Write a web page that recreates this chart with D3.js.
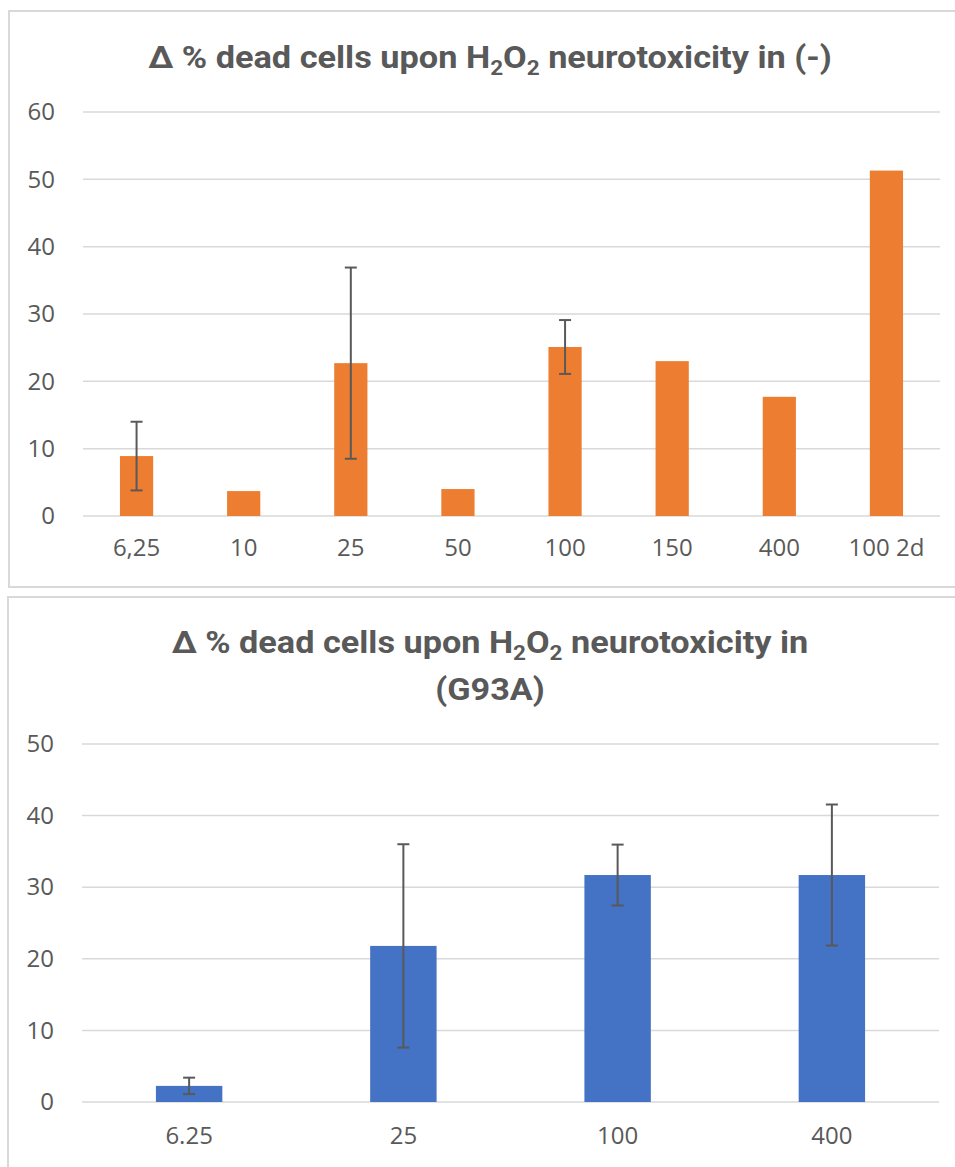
<!DOCTYPE html>
<html>
<head>
<meta charset="utf-8">
<script src="https://cdn.jsdelivr.net/npm/d3@7"></script>
<style>
  body { margin: 0; background: #fff; }
  svg { display: block; }
</style>
</head>
<body>
<div id="chart"></div>
<script>
// Graphique du haut : (-)
var categoriesHaut = ["6,25", "10", "25", "50", "100", "150", "400", "100 2d"];
var valeursHaut = [8.9, 3.7, 22.7, 4.0, 25.1, 23.0, 17.7, 51.3];
var erreursHaut = [5.1, null, 14.2, null, 4.0, null, null, null];
var ticksHaut = [0, 10, 20, 30, 40, 50, 60];

// Graphique du bas : (G93A)
var categoriesBas = ["6.25", "25", "100", "400"];
var valeursBas = [2.25, 21.8, 31.7, 31.7];
var erreursBas = [1.15, 14.2, 4.25, 9.85];
var ticksBas = [0, 10, 20, 30, 40, 50];

var gris = "#595959";
var grille = "#d9d9d9";
var policeAxe = "'Open Sans', 'Noto Sans', sans-serif";
var policeTitre = "Roboto, 'Open Sans', sans-serif";

var svg = d3.select("#chart").append("svg").attr("width", 955).attr("height", 1167);

// largeurCible : largeur de la premiere ligne du titre dans l'original
function dessineTitre(lignes, yPremiere, interligne, largeurCible) {
    var cx = 490;
    var facteur = 1;
    lignes.forEach(function(morceaux, i) {
        var g = svg.append("g");
        var t = g.append("text")
            .attr("x", 0)
            .attr("y", 0)
            .attr("text-anchor", "middle")
            .attr("font-family", policeTitre)
            .attr("font-weight", "bold")
            .attr("font-size", 32)
            .attr("fill", gris);
        var bas = false;
        morceaux.forEach(function(m) {
            var s = t.append("tspan").text(m.t);
            if (m.sub) {
                s.attr("font-size", 21).attr("dy", 7);
                bas = true;
            } else if (bas) {
                s.attr("dy", -7);
                bas = false;
            }
        });
        if (i === 0) {
            facteur = largeurCible / t.node().getComputedTextLength();
        }
        g.attr("transform", "translate(" + cx + "," + (yPremiere + i * interligne) + ") scale(" + facteur + ",1)");
    });
}

function dessineGraphique(cfg) {
    // cadre
    svg.append("rect")
        .attr("x", cfg.cadre[0]).attr("y", cfg.cadre[1])
        .attr("width", cfg.cadre[2]).attr("height", cfg.cadre[3])
        .attr("fill", "none").attr("stroke", grille).attr("stroke-width", 2);

    var x = d3.scaleBand()
        .domain(cfg.categories)
        .range([cfg.gauche, cfg.droite])
        .paddingInner(0.69)
        .paddingOuter(0.345);
    var y = d3.scaleLinear()
        .domain([0, d3.max(cfg.ticks)])
        .range([cfg.bas, cfg.haut]);

    // lignes de grille
    svg.append("g").selectAll("line")
        .data(cfg.ticks)
        .join("line")
        .attr("x1", cfg.gauche).attr("x2", cfg.droite)
        .attr("y1", function(d) { return y(d); })
        .attr("y2", function(d) { return y(d); })
        .attr("stroke", grille).attr("stroke-width", 1.5);

    // axe Y
    var axeY = svg.append("g")
        .attr("transform", "translate(" + cfg.gauche + ",0)")
        .call(d3.axisLeft(y).tickValues(cfg.ticks).tickSize(0).tickPadding(28));
    axeY.select(".domain").remove();
    axeY.selectAll("text")
        .attr("font-family", policeAxe).attr("font-size", 24).attr("fill", gris);

    // axe X
    var axeX = svg.append("g")
        .attr("transform", "translate(0," + cfg.bas + ")")
        .call(d3.axisBottom(x).tickSize(0).tickPadding(cfg.decalX));
    axeX.select(".domain").remove();
    axeX.selectAll("text")
        .attr("font-family", policeAxe).attr("font-size", 24).attr("fill", gris);

    var donnees = cfg.categories.map(function(c, i) {
        return { cat: c, val: cfg.valeurs[i], err: cfg.erreurs[i] };
    });

    // barres
    svg.append("g").selectAll("rect")
        .data(donnees)
        .join("rect")
        .attr("x", function(d) { return x(d.cat); })
        .attr("y", function(d) { return y(d.val); })
        .attr("width", x.bandwidth())
        .attr("height", function(d) { return y(0) - y(d.val); })
        .attr("fill", cfg.couleur);

    // barres d'erreur
    var avecErreur = donnees.filter(function(d) { return d.err != null; });
    var g = svg.append("g").attr("stroke", gris).attr("stroke-width", 2).attr("fill", "none");
    avecErreur.forEach(function(d) {
        var cx = x(d.cat) + x.bandwidth() / 2;
        var y1 = y(d.val + d.err), y2 = y(d.val - d.err);
        g.append("line").attr("x1", cx).attr("x2", cx).attr("y1", y1).attr("y2", y2);
        g.append("line").attr("x1", cx - 6).attr("x2", cx + 6).attr("y1", y1).attr("y2", y1);
        g.append("line").attr("x1", cx - 6).attr("x2", cx + 6).attr("y1", y2).attr("y2", y2);
    });
}

dessineGraphique({
    cadre: [9, 11, 960, 576],
    categories: categoriesHaut, valeurs: valeursHaut, erreurs: erreursHaut, ticks: ticksHaut,
    gauche: 83, droite: 940, haut: 112, bas: 516, decalX: 23,
    couleur: "#ED7D31"
});
dessineTitre([
    [{t: "\u0394 % dead cells upon H"}, {t: "2", sub: true}, {t: "O"}, {t: "2", sub: true}, {t: " neurotoxicity in (-)"}]
], 68, 0, 684);

dessineGraphique({
    cadre: [8, 597, 960, 600],
    categories: categoriesBas, valeurs: valeursBas, erreurs: erreursBas, ticks: ticksBas,
    gauche: 82, droite: 939, haut: 744, bas: 1102, decalX: 25,
    couleur: "#4472C4"
});
dessineTitre([
    [{t: "\u0394 % dead cells upon H"}, {t: "2", sub: true}, {t: "O"}, {t: "2", sub: true}, {t: " neurotoxicity in"}],
    [{t: "(G93A)"}]
], 653, 47, 637);
</script>
</body>
</html>
